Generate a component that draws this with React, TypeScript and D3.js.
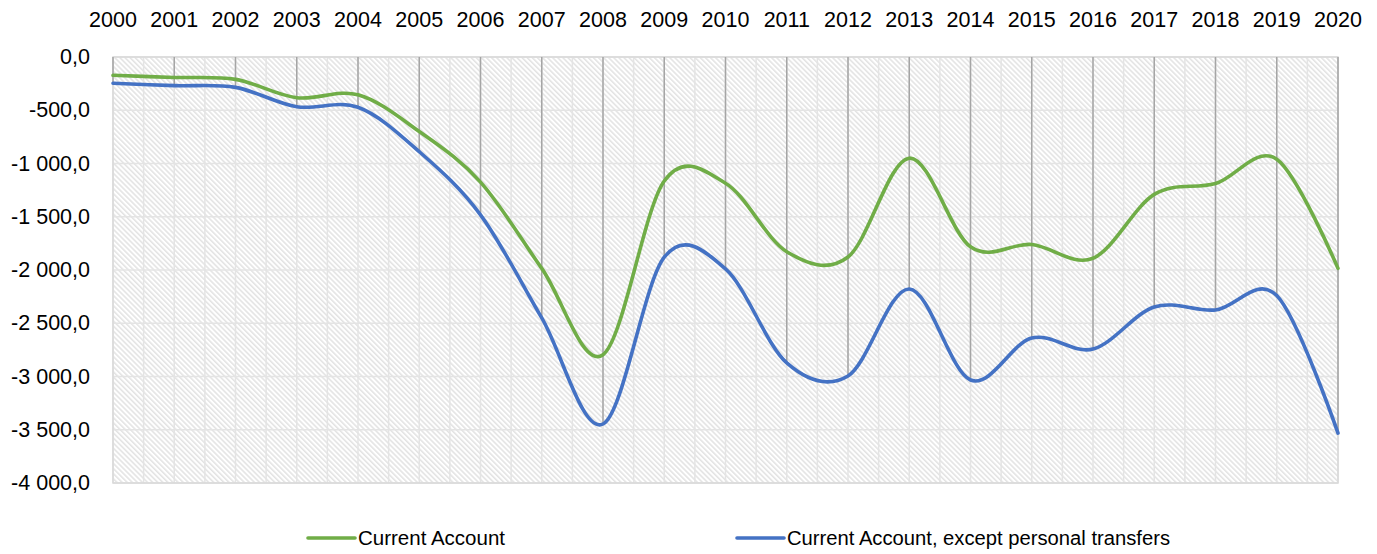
import React, { useEffect, useRef } from 'react';
import * as d3 from 'd3';

const YEARS = ['2000', '2001', '2002', '2003', '2004', '2005', '2006', '2007', '2008', '2009', '2010',
  '2011', '2012', '2013', '2014', '2015', '2016', '2017', '2018', '2019', '2020'];

const CURRENT_ACCOUNT = [-172, -192, -210, -382, -355, -700, -1175, -1985, -2795, -1165, -1185,
  -1828, -1878, -950, -1782, -1760, -1890, -1290, -1188, -960, -1985];

const EXCEPT_TRANSFERS = [-247, -269, -285, -467, -472, -889, -1482, -2450, -3446, -1880, -1990,
  -2873, -2995, -2178, -3033, -2639, -2742, -2347, -2375, -2240, -3531];

const Y_TICKS = [0, -500, -1000, -1500, -2000, -2500, -3000, -3500, -4000];

const SERIES = [
  { name: 'Current Account', values: CURRENT_ACCOUNT, color: '#70ad47' },
  { name: 'Current Account, except personal transfers', values: EXCEPT_TRANSFERS, color: '#4472c4' },
];

const W = 1377;
const H = 554;
const FONT = '"Liberation Sans", Arial, sans-serif';

const fmt = (v: number) => {
  const s = Math.abs(v).toFixed(0).replace(/\B(?=(\d{3})+(?!\d))/g, ' ');
  return (v < 0 ? '-' : '') + s + ',0';
};

export default function App() {
  const svgRef = useRef<SVGSVGElement>(null);

  useEffect(() => {
    if (!svgRef.current) return;
    const svg = d3.select(svgRef.current);
    svg.selectAll('*').remove();

    const margin = { top: 57, right: 39, bottom: 71, left: 113 };
    const x = d3.scalePoint<string>()
      .domain(YEARS)
      .range([margin.left, W - margin.right]);
    const y = d3.scaleLinear()
      .domain([-4000, 0])
      .range([H - margin.bottom, margin.top]);
    const step = x.step();

    // diagonal hatch fill of the plot area
    const defs = svg.append('defs');
    const pat = defs.append('pattern')
      .attr('id', 'hatch')
      .attr('patternUnits', 'userSpaceOnUse')
      .attr('width', 3.6)
      .attr('height', 3.6)
      .attr('patternTransform', 'rotate(-45)');
    pat.append('rect').attr('width', 3.6).attr('height', 3.6).attr('fill', '#ffffff');
    pat.append('line')
      .attr('x1', 0.8).attr('y1', -1).attr('x2', 0.8).attr('y2', 5)
      .attr('stroke', '#e0e0e0').attr('stroke-width', 1.4);

    const x0 = margin.left;
    const x1 = W - margin.right;
    const y0 = margin.top;
    const y1 = H - margin.bottom;

    svg.append('rect')
      .attr('x', x0).attr('y', y0)
      .attr('width', x1 - x0).attr('height', y1 - y0)
      .attr('fill', 'url(#hatch)');

    svg.append('g').selectAll('line')
      .data(Y_TICKS)
      .join('line')
      .attr('x1', x0).attr('x2', x1)
      .attr('y1', d => y(d)).attr('y2', d => y(d))
      .attr('stroke', '#e4e4e4').attr('stroke-width', 1.5);

    const vlines: number[] = [];
    YEARS.forEach((yr, i) => {
      vlines.push(x(yr)!);
      if (i < YEARS.length - 1) vlines.push(x(yr)! + step / 2);
    });
    svg.append('g').selectAll('line')
      .data(vlines)
      .join('line')
      .attr('x1', d => d).attr('x2', d => d)
      .attr('y1', y0).attr('y2', y1)
      .attr('stroke', '#e4e4e4').attr('stroke-width', 1.5);

    svg.append('rect')
      .attr('x', x0).attr('y', y0)
      .attr('width', x1 - x0).attr('height', y1 - y0)
      .attr('fill', 'none')
      .attr('stroke', '#d9d9d9').attr('stroke-width', 1.5);

    // drop lines: from the category axis down to the lower series
    svg.append('g').selectAll('line')
      .data(YEARS)
      .join('line')
      .attr('x1', d => x(d)!).attr('x2', d => x(d)!)
      .attr('y1', y0)
      .attr('y2', (d, i) => y(Math.min(CURRENT_ACCOUNT[i], EXCEPT_TRANSFERS[i])))
      .attr('stroke', '#a5a5a5').attr('stroke-width', 1.5);

    const line = d3.line<number>()
      .x((_, i) => x(YEARS[i])!)
      .y(d => y(d))
      .curve(d3.curveCardinal.tension(0));

    SERIES.forEach(s => {
      svg.append('path')
        .datum(s.values)
        .attr('fill', 'none')
        .attr('stroke', s.color)
        .attr('stroke-width', 3.6)
        .attr('stroke-linejoin', 'round')
        .attr('stroke-linecap', 'round')
        .attr('d', line);
    });

    svg.append('g').selectAll('text')
      .data(YEARS)
      .join('text')
      .attr('x', d => x(d)!)
      .attr('y', 20)
      .attr('text-anchor', 'middle')
      .attr('dominant-baseline', 'central')
      .style('font-family', FONT)
      .style('font-size', '21.5px')
      .attr('fill', '#000')
      .text(d => d);

    svg.append('g').selectAll('text')
      .data(Y_TICKS)
      .join('text')
      .attr('x', 90)
      .attr('y', d => y(d))
      .attr('text-anchor', 'end')
      .attr('dominant-baseline', 'central')
      .style('font-family', FONT)
      .style('font-size', '21.5px')
      .attr('fill', '#000')
      .text(d => fmt(d));

    const legendItems = [
      { s: SERIES[0], lx: 308, tw: 147 },
      { s: SERIES[1], lx: 737, tw: 383 },
    ];
    legendItems.forEach(({ s, lx, tw }) => {
      svg.append('line')
        .attr('x1', lx).attr('x2', lx + 47)
        .attr('y1', 538).attr('y2', 538)
        .attr('stroke', s.color).attr('stroke-width', 3.6)
        .attr('stroke-linecap', 'round');
      svg.append('text')
        .attr('x', lx + 50)
        .attr('y', 538)
        .attr('dominant-baseline', 'central')
        .attr('textLength', tw)
        .attr('lengthAdjust', 'spacingAndGlyphs')
        .style('font-family', FONT)
        .style('font-size', '20px')
        .attr('fill', '#000')
        .text(s.name);
    });
  }, []);

  return (
    <div style={{ position: 'absolute', left: 0, top: 0 }}>
      <svg ref={svgRef} width={W} height={H} style={{ display: 'block', background: '#fff' }} />
    </div>
  );
}
